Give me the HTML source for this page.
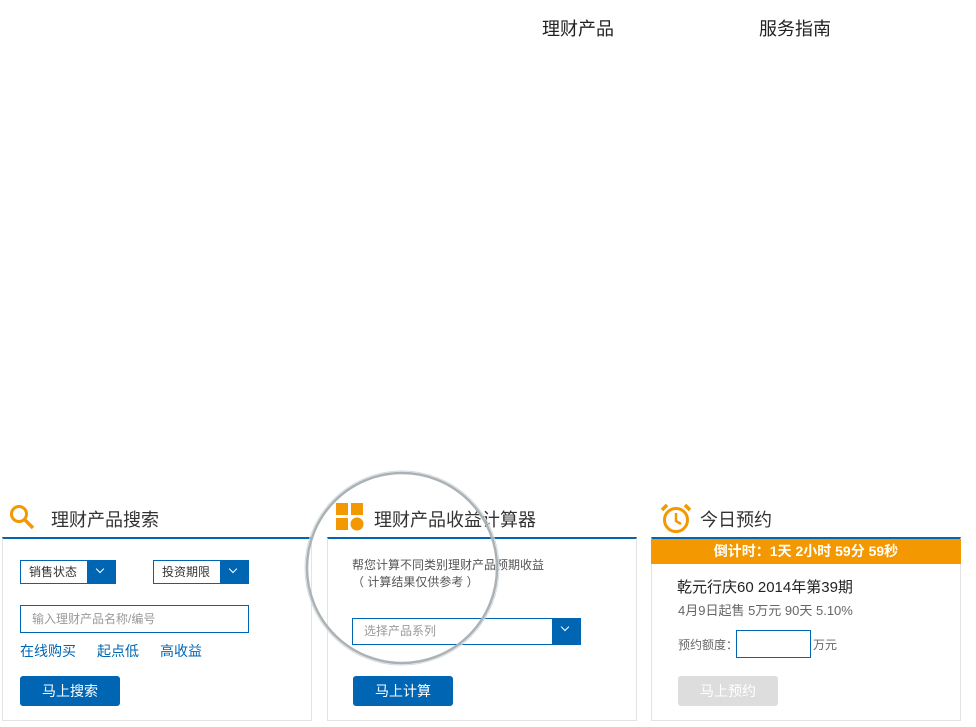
<!DOCTYPE html>
<html><head><meta charset="utf-8"><style>
*{margin:0;padding:0;box-sizing:border-box}
body{width:976px;height:727px;background:#fff;position:relative;overflow:hidden;font-family:"Liberation Sans","Noto Sans CJK SC",sans-serif;color:#333}
.a{position:absolute;white-space:nowrap}
.panel{position:absolute;top:537px;height:184px;border:1px solid #e3e3e3;border-top:2px solid #0066b3}
.sel{position:absolute;height:24px;border:1px solid #0066b3;font-size:12px;line-height:22px;padding-left:8px;color:#333}
.sel .ar{position:absolute;right:0;top:-1px;width:28px;height:24px;background:#0066b3}
.sel .ar:after{content:"";position:absolute;left:10px;top:6px;width:5px;height:5px;border-right:1.5px solid #fff;border-bottom:1.5px solid #fff;transform:rotate(45deg)}
.btn{position:absolute;width:100px;height:30px;border-radius:3px;background:#0066b3;color:#fff;font-size:14px;line-height:30px;text-align:center}
.lk{color:#0066b3;font-size:14px}
</style></head><body>
<div class="a" style="left:542px;top:15px;font-size:18px;color:#222">理财产品</div>
<div class="a" style="left:759px;top:15px;font-size:18px;color:#222">服务指南</div>

<!-- panel 1 -->
<svg class="a" style="left:8px;top:503px" width="30" height="30"><circle cx="11" cy="11" r="7.5" fill="none" stroke="#f39800" stroke-width="3"/><line x1="16.5" y1="16.5" x2="25" y2="25" stroke="#f39800" stroke-width="3.5"/></svg>
<div class="a" style="left:51px;top:506px;font-size:18px;color:#333">理财产品搜索</div>
<div class="panel" style="left:2px;width:310px"></div>
<div class="sel" style="left:20px;top:560px;width:96px">销售状态<div class="ar"></div></div>
<div class="sel" style="left:153px;top:560px;width:96px">投资期限<div class="ar"></div></div>
<div class="sel" style="left:20px;top:605px;width:229px;height:28px;line-height:26px;color:#999;padding-left:11px">输入理财产品名称/编号</div>
<div class="a lk" style="left:20px;top:641px">在线购买</div>
<div class="a lk" style="left:97px;top:641px">起点低</div>
<div class="a lk" style="left:160px;top:641px">高收益</div>
<div class="btn" style="left:20px;top:676px">马上搜索</div>

<!-- panel 2 -->
<svg class="a" style="left:336px;top:503px" width="30" height="30"><rect x="0" y="0" width="12" height="12" fill="#f39800"/><rect x="15" y="0" width="12" height="12" fill="#f39800"/><rect x="0" y="15" width="12" height="12" fill="#f39800"/><circle cx="21" cy="21" r="6.5" fill="#f39800"/></svg>
<div class="a" style="left:374px;top:506px;font-size:18px;color:#333">理财产品收益计算器</div>
<div class="panel" style="left:327px;width:310px"></div>
<div class="a" style="left:352px;top:556px;font-size:12px;color:#555">帮您计算不同类别理财产品预期收益</div>
<div class="a" style="left:352px;top:573px;font-size:12px;color:#555">（ 计算结果仅供参考 ）</div>
<div class="sel" style="left:352px;top:618px;width:229px;height:27px;line-height:25px;color:#999;padding-left:11px">选择产品系列<div class="ar" style="height:27px"></div></div>
<div class="btn" style="left:353px;top:676px">马上计算</div>
<svg class="a" style="left:300px;top:465px" width="210" height="210"><circle cx="102" cy="103" r="95" fill="none" stroke="#aab2b6" stroke-width="2.5"/><circle cx="102" cy="103" r="97" fill="none" stroke="#d5dadc" stroke-width="1"/></svg>

<!-- panel 3 -->
<svg class="a" style="left:660px;top:503px" width="32" height="32"><circle cx="16" cy="17" r="11.5" fill="none" stroke="#f39800" stroke-width="3"/><polyline points="16,10 16,18 21,21" fill="none" stroke="#f39800" stroke-width="2.5"/><path d="M2 7 L7 2" stroke="#f39800" stroke-width="3.5"/><path d="M25 2 L30 7" stroke="#f39800" stroke-width="3.5"/></svg>
<div class="a" style="left:700px;top:506px;font-size:18px;color:#333">今日预约</div>
<div class="panel" style="left:651px;width:310px"></div>
<div class="a" style="left:651px;top:539px;width:310px;height:25px;background:#f39800;color:#fff;font-size:14px;font-weight:bold;text-align:center;line-height:25px">倒计时：1天 2小时 59分 59秒</div>
<div class="a" style="left:677px;top:576px;font-size:15px;color:#222">乾元行庆60 2014年第39期</div>
<div class="a" style="left:678px;top:600px;font-size:13px;color:#666">4月9日起售 5万元 90天 5.10%</div>
<div class="a" style="left:678px;top:636px;font-size:12px;color:#666">预约额度：</div>
<div class="a" style="left:736px;top:630px;width:75px;height:28px;border:1px solid #0066b3"></div>
<div class="a" style="left:813px;top:636px;font-size:12px;color:#666">万元</div>
<div class="btn" style="left:678px;top:676px;background:#ddd;color:#fff">马上预约</div>
</body></html>
